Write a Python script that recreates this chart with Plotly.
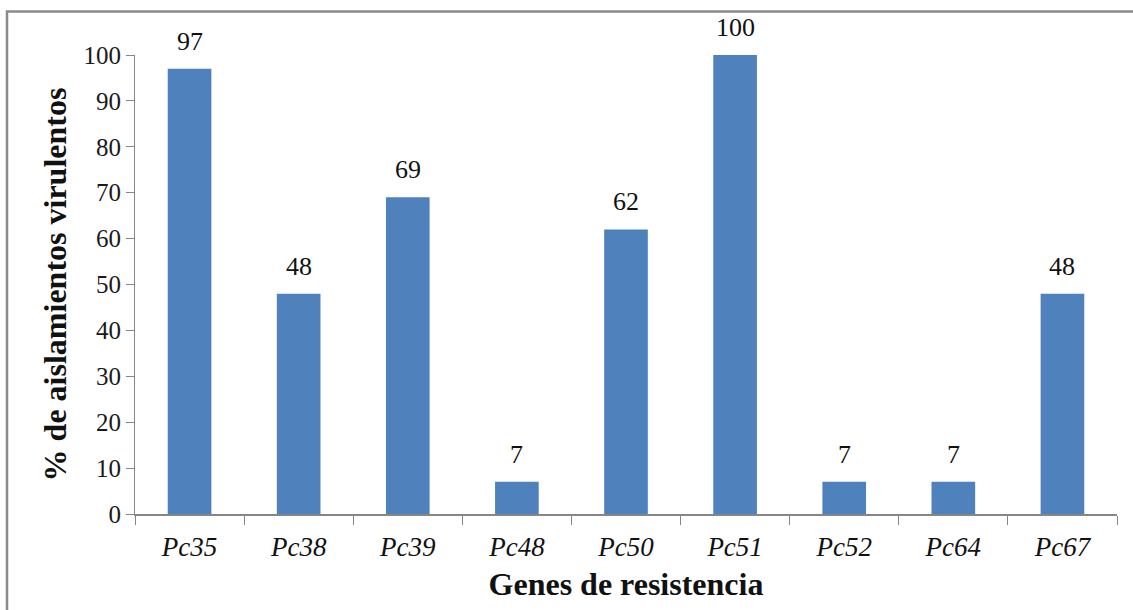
import plotly.graph_objects as go

# Resistance genes and % of virulent isolates
genes = ["Pc35", "Pc38", "Pc39", "Pc48", "Pc50", "Pc51", "Pc52", "Pc64", "Pc67"]
virulent_pct = [97, 48, 69, 7, 62, 100, 7, 7, 48]
y_ticks = [0, 10, 20, 30, 40, 50, 60, 70, 80, 90, 100]

W, H = 1133, 610
L, R, T, B = 135, 16, 55, 96
plot_w = W - L - R
plot_h = H - T - B

def px_to_paper_x(px):
    return (px - L) / plot_w

def px_to_paper_y(py):
    return (H - B - py) / plot_h

serif = "'Liberation Serif', 'Times New Roman', serif"
axis_grey = "#868686"
ink = "#111111"

fig = go.Figure(
    go.Bar(
        x=genes,
        y=virulent_pct,
        width=0.4,
        marker=dict(color="#4F81BD", line=dict(width=0)),
        hoverinfo="x+y",
    )
)

# value labels sitting above each bar
annotations = [
    dict(
        x=g, y=v, xref="x", yref="y",
        text=str(v),
        showarrow=False,
        yanchor="bottom",
        yshift=11,
        font=dict(family=serif, size=26, color=ink),
    )
    for g, v in zip(genes, virulent_pct)
]

fig.update_layout(
    width=W,
    height=H,
    margin=dict(l=L, r=R, t=T, b=B, pad=0),
    paper_bgcolor="white",
    plot_bgcolor="white",
    showlegend=False,
    bargap=0.6,
    annotations=annotations,
    shapes=[
        # outer chart frame (runs past the right and bottom edges)
        dict(
            type="rect",
            xref="paper", yref="paper",
            x0=px_to_paper_x(7), x1=px_to_paper_x(1145),
            y0=px_to_paper_y(625), y1=px_to_paper_y(11.5),
            line=dict(color="#8a8a8a", width=2.5),
            fillcolor="rgba(0,0,0,0)",
            layer="below",
        )
    ],
)

fig.update_xaxes(
    type="category",
    showline=True,
    linecolor=axis_grey,
    linewidth=1.5,
    ticks="outside",
    tickson="boundaries",
    ticklen=9,
    tickcolor=axis_grey,
    tickwidth=1.2,
    ticklabelstandoff=8,
    tickfont=dict(family=serif, size=27, color=ink, style="italic"),
    showgrid=False,
    title=dict(
        text="Genes de resistencia",
        font=dict(family=serif, size=32, color=ink, weight="bold"),
        standoff=11,
    ),
)

fig.update_yaxes(
    range=[0, 100],
    tickvals=y_ticks,
    showline=True,
    linecolor=axis_grey,
    linewidth=1.2,
    ticks="outside",
    ticklen=8,
    tickcolor=axis_grey,
    tickwidth=1.2,
    tickfont=dict(family=serif, size=25, color="#1a1a1a"),
    showgrid=False,
    zeroline=False,
    title=dict(
        text="% de aislamientos virulentos",
        font=dict(family=serif, size=32, color=ink, weight="bold"),
        standoff=7,
    ),
)

fig.write_html("out.html")
